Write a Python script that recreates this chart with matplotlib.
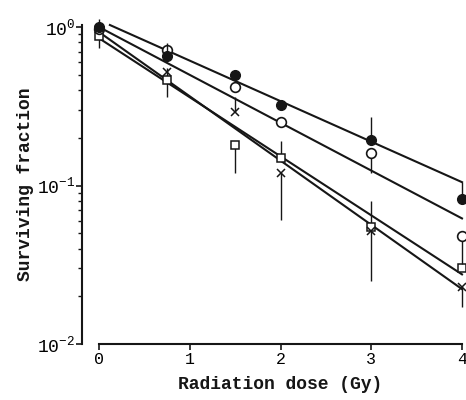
"""Surviving fraction vs radiation dose, four cell lines on a log scale."""

import matplotlib
matplotlib.use("Agg")
import matplotlib.pyplot as plt
import numpy as np

# Measured points
dose = [0, 0.75, 1.5, 2, 3, 4]
filled = [1.0, 0.66, 0.50, 0.32, 0.195, 0.082]
opened = [0.97, 0.72, 0.42, 0.25, 0.16, 0.048]
square = [0.88, 0.46, 0.18, 0.15, 0.055, 0.030]
cross = [0.97, 0.52, 0.29, 0.12, 0.052, 0.023]

# Error bar extents (low / high); equal to the point where no bar is drawn
filled_lo = [1.0, 0.66, 0.50, 0.32, 0.195, 0.082]
filled_hi = [1.0, 0.79, 0.50, 0.32, 0.27, 0.105]
opened_lo = [0.97, 0.72, 0.42, 0.25, 0.12, 0.032]
opened_hi = [0.97, 0.72, 0.42, 0.25, 0.16, 0.048]
square_lo = [0.74, 0.46, 0.12, 0.15, 0.025, 0.030]
square_hi = [1.13, 0.46, 0.18, 0.19, 0.08, 0.030]
cross_lo = [0.97, 0.36, 0.29, 0.061, 0.052, 0.017]
cross_hi = [0.97, 0.55, 0.36, 0.12, 0.052, 0.023]

# Fitted lines (end points)
fit_filled_x = [0.12, 4]
fit_filled_y = [1.03, 0.105]
fit_opened_x = [0, 4]
fit_opened_y = [1.0, 0.062]
fit_square_x = [0, 4]
fit_square_y = [0.85, 0.0275]
fit_cross_x = [0, 4]
fit_cross_y = [0.93, 0.0222]

x_ticks = [0, 1, 2, 3, 4]
y_ticks = [0.01, 0.1, 1.0]
y_tick_labels = ["10$^{-2}$", "10$^{-1}$", "10$^{0}$"]

plt.rcParams['font.family'] = ['Liberation Mono', 'DejaVu Sans Mono']
plt.rcParams['mathtext.fontset'] = 'custom'
plt.rcParams['mathtext.rm'] = 'Liberation Mono'
plt.rcParams['mathtext.it'] = 'Liberation Mono'

ink = '#161616'

fig = plt.figure(figsize=(4.66, 4.0), dpi=100)
ax = fig.add_axes([99 / 466, 1 - 344 / 400, 363 / 466, 319 / 400])


def err(values, lo, hi):
    v = np.array(values)
    return [v - np.array(lo), np.array(hi) - v]


# Fit lines
for fx, fy in [(fit_filled_x, fit_filled_y), (fit_opened_x, fit_opened_y),
               (fit_square_x, fit_square_y), (fit_cross_x, fit_cross_y)]:
    ax.plot(fx, fy, color=ink, lw=1.5, zorder=2, clip_on=False)

# Error bars and points
ax.errorbar(dose, square, yerr=err(square, square_lo, square_hi), fmt='s',
            ms=6, mfc='white', mec=ink, mew=1.1, ecolor=ink, elinewidth=1.0,
            capsize=0, zorder=3, clip_on=False)
ax.errorbar(dose, cross, yerr=err(cross, cross_lo, cross_hi), fmt='x',
            ms=6, mec=ink, mew=1.1, ecolor=ink, elinewidth=1.0,
            capsize=0, zorder=3, clip_on=False)
ax.errorbar(dose, opened, yerr=err(opened, opened_lo, opened_hi), fmt='o',
            ms=7, mfc='white', mec=ink, mew=1.2, ecolor=ink, elinewidth=1.0,
            capsize=0, zorder=4, clip_on=False)
ax.errorbar(dose, filled, yerr=err(filled, filled_lo, filled_hi), fmt='o',
            ms=7, mfc=ink, mec=ink, ecolor=ink, elinewidth=1.0,
            capsize=0, zorder=5, clip_on=False)

ax.set_yscale('log')
ax.set_xlim(0, 4)
ax.set_ylim(0.01, 1.03)

ax.spines['top'].set_visible(False)
ax.spines['right'].set_visible(False)
ax.spines['left'].set_position(('outward', 12))
ax.spines['left'].set_linewidth(1.5)
ax.spines['bottom'].set_linewidth(1.5)
ax.spines['left'].set_color(ink)
ax.spines['bottom'].set_color(ink)

ax.set_xticks(x_ticks)
ax.set_xticklabels([str(t) for t in x_ticks], fontsize=12)
ax.set_yticks(y_ticks)
ax.set_yticklabels(y_tick_labels, fontsize=13)
ax.tick_params(axis='y', which='major', length=4, width=1.2, color=ink, pad=1)
ax.tick_params(axis='y', which='minor', length=3, width=1.0, color=ink)
ax.tick_params(axis='x', length=4, width=1.2, color=ink, pad=2)

ax.set_xlabel('Radiation dose (Gy)', fontsize=13, fontweight='bold',
              labelpad=6, color=ink)
ax.set_ylabel('Surviving fraction', fontsize=13, fontweight='bold',
              labelpad=2, color=ink)

fig.savefig('out.png', dpi=100)
